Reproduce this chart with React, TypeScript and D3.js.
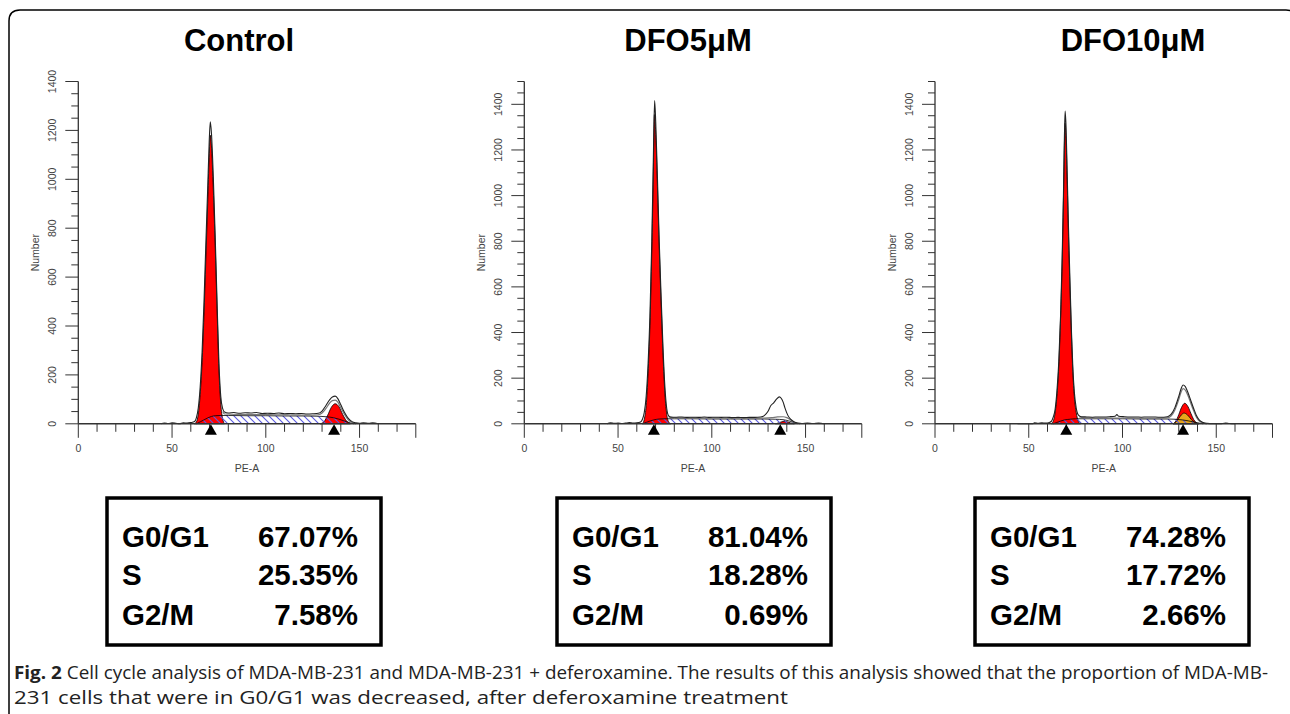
import React from "react";
import * as d3 from "d3";

type Pt = [number, number];

// ---------------- data ----------------
const TITLES = ["Control", "DFO5μM", "DFO10μM"];
const Y_MAX = [1400, 1500, 1500];
const X_MAX = 180;
const Y_LABELS = [0, 200, 400, 600, 800, 1000, 1200, 1400];
const X_LABELS = [0, 50, 100, 150];
const PHASES = ["G0/G1", "S", "G2/M"];
const PCT_CONTROL = ["67.07%", "25.35%", "7.58%"];
const PCT_DFO5 = ["81.04%", "18.28%", "0.69%"];
const PCT_DFO10 = ["74.28%", "17.72%", "2.66%"];

const controlData: Pt[] = [[44,0],[46,3],[48,1],[50,4],[52,2],[54,0],[56,4],[58,3],[60,5],[62,9],[63,25],[64,65],[65,150],[66,290],[67,490],[68,730],[69,960],[69.8,1150],[70.4,1235],[71,1190],[72,1010],[73,770],[74,500],[75,250],[76,110],[77,62],[78,48],[80,44],[83,46],[86,43],[89,45],[92,44],[95,46],[98,42],[101,43],[104,42],[107,44],[110,41],[113,42],[116,41],[119,42],[122,40],[125,41],[128,43],[130,52],[132,74],[134,98],[135.5,110],[137,113],[138.5,102],[140,78],[142,46],[144,22],[146,9],[148,4],[150,2],[152,4],[155,2],[157,4],[160,0]];
const controlFit: Pt[] = [[77,50],[78,40],[85,38],[95,38],[105,37],[115,36],[125,35],[128,37],[130,44],[132,62],[134,84],[135.5,95],[137,97],[138.5,88],[140,66],[142,38],[144,16],[146,5],[148,0]];
const controlG1: Pt[] = [[62,0],[63,8],[64,40],[65,120],[66,250],[67,440],[68,670],[69,900],[69.8,1090],[70.4,1180],[71,1140],[72,960],[73,730],[74,470],[75,220],[76,80],[77,20],[78,0]];
const controlS: Pt[] = [[63,0],[65,8],[67,16],[69,24],[71,30],[73,33],[76,34],[80,34],[90,33],[100,33],[110,32],[120,32],[128,31],[132,29],[136,25],[139,19],[142,11],[145,4],[147,0]];
const controlG2: Pt[] = [[129,0],[131,8],[133,35],[135,68],[137,82],[139,70],[141,38],[143,12],[145,0]];
const controlMarkers = [70.7, 136.4];

const dfo5Data: Pt[] = [[44,0],[46,4],[48,2],[50,3],[52,1],[54,3],[56,5],[58,3],[60,4],[62,8],[63,20],[64,50],[65,120],[66,260],[67,470],[68,800],[68.8,1150],[69.5,1416],[70.1,1320],[71,1080],[72,790],[73,550],[74,330],[75,160],[76,65],[77,35],[78,30],[81,29],[84,30],[87,28],[90,29],[93,28],[96,30],[99,28],[102,29],[105,28],[108,29],[111,27],[114,28],[117,27],[120,28],[123,28],[126,30],[128,36],[130,55],[131.5,80],[133,92],[134.5,108],[136,118],[137,112],[138,96],[139,70],[140.5,38],[142,20],[144,8],[146,3],[148,1],[151,3],[154,1],[157,3],[160,0]];
const dfo5Fit: Pt[] = [[77,30],[80,26],[90,26],[100,25],[110,25],[120,24],[128,25],[132,27],[135,30],[138,31],[140,27],[142,17],[144,7],[146,0]];
const dfo5G1: Pt[] = [[63,0],[64,20],[65,80],[66,220],[67,430],[68,760],[68.8,1090],[69.4,1355],[70,1290],[71,1040],[72,760],[73,520],[74,300],[75,130],[76,40],[77,8],[78,0]];
const dfo5S: Pt[] = [[63,0],[65,6],[67,12],[69,17],[72,21],[75,22],[80,22],[90,22],[100,21],[110,21],[120,21],[128,21],[134,20],[138,18],[141,13],[143,8],[145,3],[147,0]];
const dfo5G2: Pt[] = [[134,0],[136,5],[138,10],[140,9],[142,4],[144,0]];
const dfo5Markers = [69.1, 136.5];

const dfo10Data: Pt[] = [[44,0],[48,0],[52,0],[53,4],[55,2],[57,4],[59,3],[61,6],[62,10],[63,28],[64,60],[65,140],[66,270],[67,480],[67.8,720],[68.5,1000],[69,1250],[69.4,1370],[69.9,1300],[70.5,1100],[71.2,860],[72,620],[72.8,400],[73.5,250],[74.3,140],[75.3,70],[76.5,38],[78,31],[81,30],[84,29],[87,30],[90,30],[93,31],[96,33],[97,40],[98,33],[101,31],[104,30],[107,30],[110,29],[113,30],[116,30],[119,29],[122,29],[124,31],[126,42],[128,72],[130,120],[131.3,155],[132.3,170],[133.5,163],[135,135],[136.5,100],[138,66],[139.5,35],[141,16],[143,6],[145,2],[148,0],[152,0],[155,3],[157,1],[160,0]];
const dfo10Fit: Pt[] = [[77,30],[80,26],[90,25],[100,25],[110,24],[120,24],[124,26],[126,35],[128,62],[130,106],[131.3,140],[132.3,154],[133.5,148],[135,122],[136.5,88],[138,56],[139.5,28],[141,12],[143,4],[145,0]];
const dfo10G1: Pt[] = [[62,0],[63,10],[64,45],[65,120],[66,250],[67,470],[67.8,700],[68.5,980],[69,1220],[69.4,1317],[69.9,1250],[70.5,1060],[71.2,820],[72,590],[72.8,380],[73.5,230],[74.3,120],[75.3,50],[76.5,10],[77.5,0]];
const dfo10S: Pt[] = [[63,0],[65,6],[67,12],[69,17],[72,20],[75,22],[80,22],[90,22],[100,22],[110,21],[120,21],[124,21],[128,20],[132,17],[135,13],[138,8],[141,3],[143,0]];
const dfo10G2: Pt[] = [[127,0],[128.5,12],[130,40],[131.5,72],[133.2,90],[135,74],[136.5,45],[138,18],[139.5,4],[140.5,0]];
const dfo10G2b: Pt[] = [[127,0],[128.5,8],[130,24],[131.5,40],[132.8,47],[134.5,40],[136,26],[137.5,12],[139,4],[140.5,0]];
const dfo10Markers = [70.0, 132.3];

const CAPTION_BOLD = "Fig. 2";
const CAPTION_LINE1 = " Cell cycle analysis of MDA-MB-231 and MDA-MB-231 + deferoxamine. The results of this analysis showed that the proportion of MDA-MB-";
const CAPTION_LINE2 = "231 cells that were in G0/G1 was decreased, after deferoxamine treatment";

// ---------------- layout ----------------
const W = 1290, H = 714;
const PX0 = [78.3, 524.3, 935];
const PW = 337.5;
const Y_TOP = 81.5, Y_ZERO = 423.8;
const TITLE_X = [239, 688, 1133];
const BOX_X = [107, 557, 975];
const BOX_W = 274, BOX_Y = 498, BOX_H = 147;
const AXIS_FONT = "'Liberation Sans', Arial, sans-serif";

interface PanelDef {
  data: Pt[]; fit: Pt[]; g1: Pt[]; s: Pt[]; g2: Pt[]; g2b?: Pt[]; markers: number[]; pct: string[];
}
const PANELS: PanelDef[] = [
  { data: controlData, fit: controlFit, g1: controlG1, s: controlS, g2: controlG2, markers: controlMarkers, pct: PCT_CONTROL },
  { data: dfo5Data, fit: dfo5Fit, g1: dfo5G1, s: dfo5S, g2: dfo5G2, markers: dfo5Markers, pct: PCT_DFO5 },
  { data: dfo10Data, fit: dfo10Fit, g1: dfo10G1, s: dfo10S, g2: dfo10G2, g2b: dfo10G2b, markers: dfo10Markers, pct: PCT_DFO10 },
];

function Panel({ p, i }: { p: PanelDef; i: number }) {
  const x = d3.scaleLinear().domain([0, X_MAX]).range([PX0[i], PX0[i] + PW]);
  const y = d3.scaleLinear().domain([0, Y_MAX[i]]).range([Y_ZERO, Y_TOP]);
  const area = d3.area<Pt>().x(d => x(d[0])).y0(Y_ZERO).y1(d => y(d[1])).curve(d3.curveMonotoneX);
  const line = d3.line<Pt>().x(d => x(d[0])).y(d => y(d[1])).curve(d3.curveMonotoneX);
  const xTicks = d3.range(0, X_MAX + 1, 10);
  const yTicks = d3.range(0, Y_MAX[i] + 1, 50);
  const x0 = PX0[i];
  return (
    <g>
      <text x={TITLE_X[i]} y={51} textAnchor="middle" fontFamily={AXIS_FONT} fontWeight="bold" fontSize={31} fill="#000">{TITLES[i]}</text>
      <path d={area(p.g1)!} fill="#ff0000" stroke="#000" strokeWidth={0.8} />
      <path d={area(p.g2)!} fill="#ff0000" stroke="#000" strokeWidth={0.8} />
      {p.g2b && <path d={area(p.g2b)!} fill="#e8a51c" stroke="#000" strokeWidth={0.8} />}
      <path d={area(p.s)!} fill="url(#hatch)" stroke="none" />
      <path d={line(p.s)!} fill="none" stroke="#000" strokeWidth={0.8} />
      <path d={line(p.fit)!} fill="none" stroke="#777" strokeWidth={1.2} />
      <path d={line(p.data)!} fill="none" stroke="#222" strokeWidth={1.1} />
      <line x1={x(0)} x2={x(X_MAX)} y1={Y_ZERO} y2={Y_ZERO} stroke="#333" strokeWidth={1.4} />
      <line x1={x0} x2={x0} y1={Y_ZERO} y2={y(Y_MAX[i])} stroke="#333" strokeWidth={1.3} />
      {xTicks.map(t => {
        const major = t % 50 === 0 || t === X_MAX;
        return <line key={"xt" + t} x1={x(t)} x2={x(t)} y1={Y_ZERO} y2={Y_ZERO + (major ? 14 : 8)} stroke="#333" strokeWidth={1} />;
      })}
      {yTicks.map(t => {
        const major = t % 200 === 0;
        return <line key={"yt" + t} x1={x0 - (major ? 13 : 7)} x2={x0} y1={y(t)} y2={y(t)} stroke="#333" strokeWidth={1} />;
      })}
      {X_LABELS.map(t => (
        <text key={"xl" + t} x={x(t)} y={452} textAnchor="middle" fontFamily={AXIS_FONT} fontSize={10.5} fill="#444">{t}</text>
      ))}
      {Y_LABELS.map(t => (
        <text key={"yl" + t} transform={`translate(${x0 - 22},${y(t)}) rotate(-90)`} textAnchor="middle" fontFamily={AXIS_FONT} fontSize={10.5} fill="#444">{t}</text>
      ))}
      <text x={x(X_MAX / 2)} y={472} textAnchor="middle" fontFamily={AXIS_FONT} fontSize={10.5} fill="#444">PE-A</text>
      <text transform={`translate(${x0 - 39},${(Y_ZERO + Y_TOP) / 2}) rotate(-90)`} textAnchor="middle" fontFamily={AXIS_FONT} fontSize={10.5} fill="#444">Number</text>
      {p.markers.map((m, k) => (
        <path key={"m" + k} d={`M${x(m)},${Y_ZERO + 0.5} L${x(m) + 6},${Y_ZERO + 11} L${x(m) - 6},${Y_ZERO + 11} Z`} fill="#000" />
      ))}
      <rect x={BOX_X[i]} y={BOX_Y} width={BOX_W} height={BOX_H} fill="#fff" stroke="#000" strokeWidth={3.5} />
      {PHASES.map((ph, k) => (
        <g key={"r" + k}>
          <text x={BOX_X[i] + 15} y={[547, 585, 625][k]} fontFamily={AXIS_FONT} fontWeight="bold" fontSize={29.5} fill="#000">{ph}</text>
          <text x={BOX_X[i] + BOX_W - 23} y={[547, 585, 625][k]} textAnchor="end" fontFamily={AXIS_FONT} fontWeight="bold" fontSize={29.5} fill="#000">{p.pct[k]}</text>
        </g>
      ))}
    </g>
  );
}

export default function App() {
  return (
    <svg width={W} height={H} viewBox={`0 0 ${W} ${H}`} style={{ position: "absolute", left: 0, top: 0, background: "#fff" }}>
      <defs>
        <pattern id="hatch" patternUnits="userSpaceOnUse" width={7} height={7}>
          <path d="M0,0 L7,7 M-1,6 L1,8 M6,-1 L8,1" stroke="#5a5ae0" strokeWidth={1.1} />
        </pattern>
      </defs>
      <rect x={0} y={0} width={W} height={H} fill="#fff" />
      <path d={`M9,${H} V21 Q9,10 20,10 H1286 Q1297,10 1297,21 V${H}`} fill="none" stroke="#000" strokeWidth={1.5} />
      {PANELS.map((p, i) => <Panel key={i} p={p} i={i} />)}
      <text x={14} y={679} fontFamily="'Open Sans', sans-serif" fontSize={18.5} fill="#222" textLength={1254} lengthAdjust="spacingAndGlyphs">
        <tspan fontWeight="bold">{CAPTION_BOLD}</tspan>
        <tspan>{CAPTION_LINE1}</tspan>
      </text>
      <text x={14} y={704} fontFamily="'Open Sans', sans-serif" fontSize={18.5} fill="#222" textLength={774} lengthAdjust="spacingAndGlyphs">{CAPTION_LINE2}</text>
    </svg>
  );
}
